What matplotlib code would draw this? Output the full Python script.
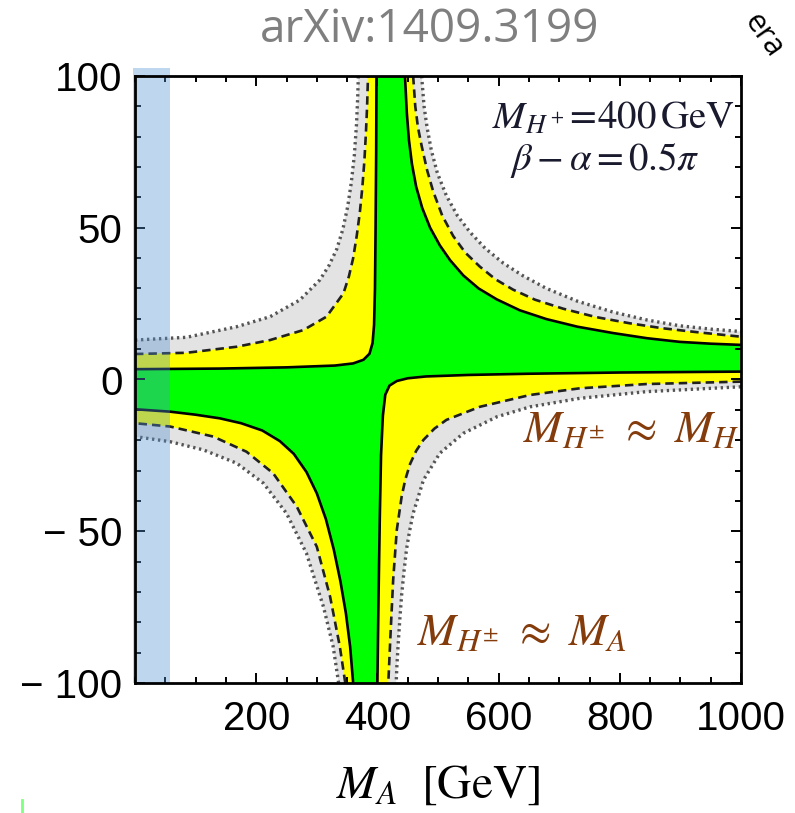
import numpy as np
import matplotlib
matplotlib.use('Agg')
import matplotlib.pyplot as plt
from matplotlib.patches import Polygon, Rectangle
from matplotlib.ticker import FixedLocator, MultipleLocator, FixedFormatter

plt.rcParams['mathtext.fontset'] = 'stix'

# contour branches in (M_A, y) ; ul: left->top, ur: top->right,
# lr: right->bottom, ll: bottom->left
ul_solid = [(0, 3.4), (140, 3.6), (250, 4.0), (330, 4.6), (360, 5.3), (377, 6.5),
            (387, 8.5), (392, 12), (394.5, 18), (396, 30), (397, 50), (398, 75), (398.5, 100)]
ul_dash = [(0, 8.4), (85, 8.8), (168, 10.8), (223, 13.0), (278, 16.3), (316, 20.7),
           (344, 28.4), (353, 34), (360, 40), (366, 47.5), (371, 55), (375, 63),
           (378.5, 72), (381, 81), (383, 90), (384.5, 100)]
ul_dot = [(0, 13.0), (85, 13.9), (168, 17.4), (223, 20.7), (272, 26.2), (305, 32.8),
          (320, 37.5), (333, 43), (343, 49.5), (351, 57), (357, 65), (362, 74),
          (365.5, 84), (367.5, 93), (368.5, 100)]

ur_solid = [(445.5, 100), (448.5, 88), (452, 79), (457, 71), (464, 63.5), (474, 56.5),
            (487, 50), (503, 44.2), (520, 39.3), (541.7, 34.3), (567, 30), (597, 26.4),
            (635, 22.8), (679, 19.9), (730, 17.4), (789, 15.3), (845, 13.6), (899, 12.4),
            (950, 11.8), (1000, 11.4)]
ur_dash = [(459, 100), (462.5, 90), (467, 83), (473, 77), (482, 69), (492, 62), (507, 54),
           (525, 47.3), (545, 41.8), (569, 37.2), (595, 33), (624, 29.6), (660, 26.3),
           (707, 23.3), (760, 20.6), (817, 18.5), (870, 16.9), (927, 15.6), (1000, 14.1)]
ur_dot = [(473, 100), (477, 90), (482, 83), (489, 75.5), (499, 68), (514, 60.5),
          (532, 54), (553, 48.5), (578, 43.2), (608, 38.3), (640, 34.2), (679, 30),
          (730, 25.8), (789, 22.2), (845, 19.6), (899, 17.7), (950, 16.6), (1000, 15.8)]

lr_solid = [(1000, 2.6), (800, 2.3), (650, 1.9), (550, 1.5), (480, 1.0), (450, 0.4),
            (432, -0.5), (420, -2), (413, -5), (409, -12), (406, -25), (404, -45),
            (402, -70), (400, -100)]
lr_dash = [(1000, -0.7), (844, -1.5), (734, -2.9), (652, -5.1), (569, -9.0), (514, -13.3),
           (494, -16.2), (476, -19.9), (464, -23.5), (454, -27.8), (446, -33), (440, -38.6),
           (432, -49.6), (426, -66.1), (422, -82.5), (418, -100)]
lr_dot = [(1000, -2.4), (844, -4.0), (734, -6.2), (652, -9.0), (597, -12.3), (542, -17.7),
          (503, -24.3), (476, -33.1), (459, -44.1), (453, -50), (448, -56), (444, -63),
          (440, -71), (437, -79), (434, -88), (432, -95), (431, -100)]

ll_solid = [(360, -100), (355, -88), (348, -77), (339, -66.5), (328, -56), (315, -46),
            (300, -37.5), (283, -30.5), (262, -24.5), (239, -20.3), (210, -16.8),
            (175, -14.4), (140, -12.8), (100, -11.6), (58, -10.6), (0, -9.8)]
ll_dash = [(347, -100), (338, -88), (322, -71.6), (300, -55.1), (267, -41.9),
           (228, -30.9), (184, -23.8), (129, -18.8), (58, -15.5), (0, -14.4)]
ll_dot = [(336, -100), (327, -88), (311, -74.9), (283, -57.3), (250, -44.1),
          (212, -34.2), (168, -27.6), (113, -23.2), (58, -20.5), (0, -18.8)]

xticks = [200, 400, 600, 800, 1000]
yticks = [-100, -50, 0, 50, 100]
ytick_labels = ['\u2212 100', '\u2212 50', '0', '50', '100']

fig = plt.figure(figsize=(7.95, 8.13), dpi=100)
ax = fig.add_axes([135 / 795, 1 - 683 / 813, 606 / 795, 607 / 813])

levels = [
    ([ul_dot, ur_dot, lr_dot, ll_dot], '#e3e3e3', dict(color='#555555', ls=(0, (0.7, 1.1)), lw=2.4)),
    ([ul_dash, ur_dash, lr_dash, ll_dash], '#ffff00', dict(color='#202020', ls=(0, (3.2, 1.9)), lw=1.9)),
    ([ul_solid, ur_solid, lr_solid, ll_solid], '#00ff00', dict(color='black', ls='-', lw=1.9)),
]

# fill outer to inner, then the boundary lines on top
for branches, fc, _ in levels:
    pts = np.array(sum(branches, []))
    ax.add_patch(Polygon(pts, closed=True, fc=fc, ec='none', zorder=1))
for branches, _, style in levels:
    for br in branches:
        b = np.array(br)
        ax.plot(b[:, 0], b[:, 1], zorder=3, **style)

# low-mass excluded strip
ax.add_patch(Rectangle((-3.6, -100), 61.5, 202.5, fc='#5191d2', ec='none',
                       alpha=0.37, clip_on=False, zorder=4))

ax.set_xlim(0, 1000)
ax.set_ylim(-100, 100)
ax.xaxis.set_major_locator(FixedLocator(xticks))
ax.xaxis.set_minor_locator(MultipleLocator(50))
ax.yaxis.set_major_locator(FixedLocator(yticks))
ax.yaxis.set_major_formatter(FixedFormatter(ytick_labels))
ax.yaxis.set_minor_locator(MultipleLocator(10))
ax.tick_params(which='both', direction='in', top=True, right=True, width=1.4, color='black')
ax.tick_params(which='major', length=7)
ax.tick_params(which='minor', length=4)
ax.tick_params(axis='x', which='major', pad=12)
ax.tick_params(axis='y', which='major', pad=9)
for lab in ax.get_xticklabels() + ax.get_yticklabels():
    lab.set_fontfamily('Liberation Sans')
    lab.set_fontsize(29)
for sp in ax.spines.values():
    sp.set_linewidth(2)
    sp.set_zorder(5)

ax.set_xlabel(r'$M_A\ \ [\mathrm{GeV}]$', fontsize=34, labelpad=18)

ax.text(0.99, 0.931, r'$M_{H^+}\!=\!400\,\mathrm{GeV}$', transform=ax.transAxes,
        ha='right', va='center', fontsize=28, color='#1a1a2e')
ax.text(0.776, 0.862, r'$\beta-\alpha=0.5\pi$', transform=ax.transAxes,
        ha='center', va='center', fontsize=28, color='#1a1a2e')

brown = '#843c0c'
ax.text(0.997, 0.417, r'$M_{H^{\pm}}\ \approx\ M_H$', transform=ax.transAxes,
        ha='right', va='center', fontsize=33, color=brown, zorder=6)
ax.text(0.465, 0.084, r'$M_{H^{\pm}}\ \approx\ M_A$', transform=ax.transAxes,
        ha='left', va='center', fontsize=33, color=brown, zorder=6)

fig.text(430 / 795, 1 - 30 / 813, 'arXiv:1409.3199', ha='center', va='center',
         fontsize=33, color='#7f7f7f', fontfamily='Open Sans')
fig.text(750 / 795, 1 - 16 / 813, 'era', rotation=-55, rotation_mode='anchor',
         ha='left', va='center', fontsize=22, fontfamily='Open Sans')
fig.add_artist(plt.Line2D([22 / 795, 22 / 795], [0, 13 / 813], color='#80ff80', lw=2))

fig.savefig('out.png', dpi=100)
